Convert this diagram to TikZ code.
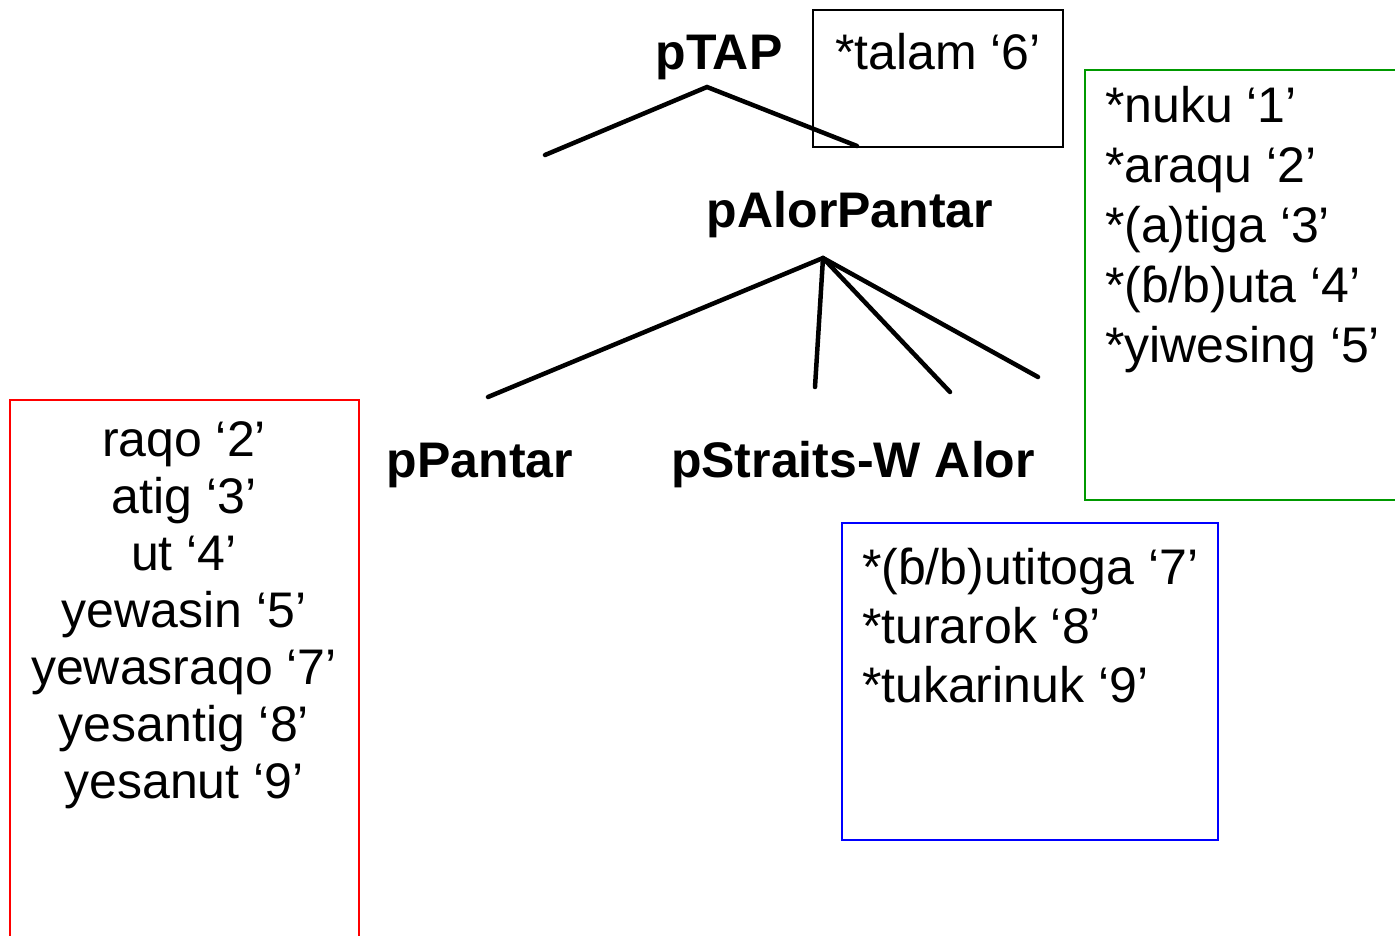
\documentclass[tikz,border=0pt]{standalone}
\usepackage{fontspec}
\setmainfont{Liberation Sans}
\begin{document}
\begin{tikzpicture}[x=1pt,y=-1pt,
  every node/.style={inner sep=0pt, outer sep=0pt},
  lbl/.style={font=\fontsize{50}{58}\selectfont\bfseries},
  word/.style={font=\fontsize{50}{60}\selectfont},
  branch/.style={line width=4.5pt, line cap=round},
  frame/.style={line width=1.6pt}]
\useasboundingbox (0,0) rectangle (1395,936);

% family labels
\node[lbl, anchor=base] (ptap) at (719,70) {pTAP};
\node[lbl, anchor=base] (palor) at (850,228) {pAlorPantar};
\node[lbl, anchor=base] (ppantar) at (480,477) {pPantar};
\node[lbl, anchor=base] (pswa) at (853,477) {pStraits-W Alor};

% branch points
\coordinate (ptaptop) at (707,87);
\coordinate (ptapl) at (545,155);
\coordinate (ptapr) at (857,146);
\coordinate (palortop) at (823,258);
\coordinate (b1) at (488,397);
\coordinate (b2) at (815,387);
\coordinate (b3) at (950,392);
\coordinate (b4) at (1038,377);

% reconstruction boxes (multi-line texts are placed by the baseline of their last line)
\node[draw=black, frame, anchor=north west, minimum width=250pt, minimum height=137pt] (talambox) at (813,10) {};
\node[word, anchor=base west] (talam) at (835,70) {*talam ‘6’};

\node[draw=black!40!green, frame, anchor=north west, minimum width=320pt, minimum height=430pt] (pap) at (1085,70) {};
\node[word, anchor=base west, align=left] (papw) at (1105,362)
  {*nuku ‘1’\\*araqu ‘2’\\*(a)tiga ‘3’\\*(ɓ/b)uta ‘4’\\*yiwesing ‘5’};

\node[draw=red, frame, anchor=north west, minimum width=349pt, minimum height=560pt] (pp) at (10,400) {};
\node[font=\fontsize{50}{57}\selectfont, anchor=base, align=center] (ppw) at (184,798)
  {raqo ‘2’\\atig ‘3’\\ut ‘4’\\yewasin ‘5’\\yewasraqo ‘7’\\yesantig ‘8’\\yesanut ‘9’};

\node[draw=blue, frame, anchor=north west, minimum width=376pt, minimum height=317pt] (swa) at (842,523) {};
\node[font=\fontsize{50}{59}\selectfont, anchor=base west, align=left] (swaw) at (862,702)
  {*(ɓ/b)utitoga ‘7’\\*turarok ‘8’\\*tukarinuk ‘9’};

% tree branches
\draw[branch] (ptapl) -- (ptaptop) -- (ptapr);
\draw[branch] (palortop) -- (b1);
\draw[branch] (palortop) -- (b2);
\draw[branch] (palortop) -- (b3);
\draw[branch] (palortop) -- (b4);
\end{tikzpicture}
\end{document}
